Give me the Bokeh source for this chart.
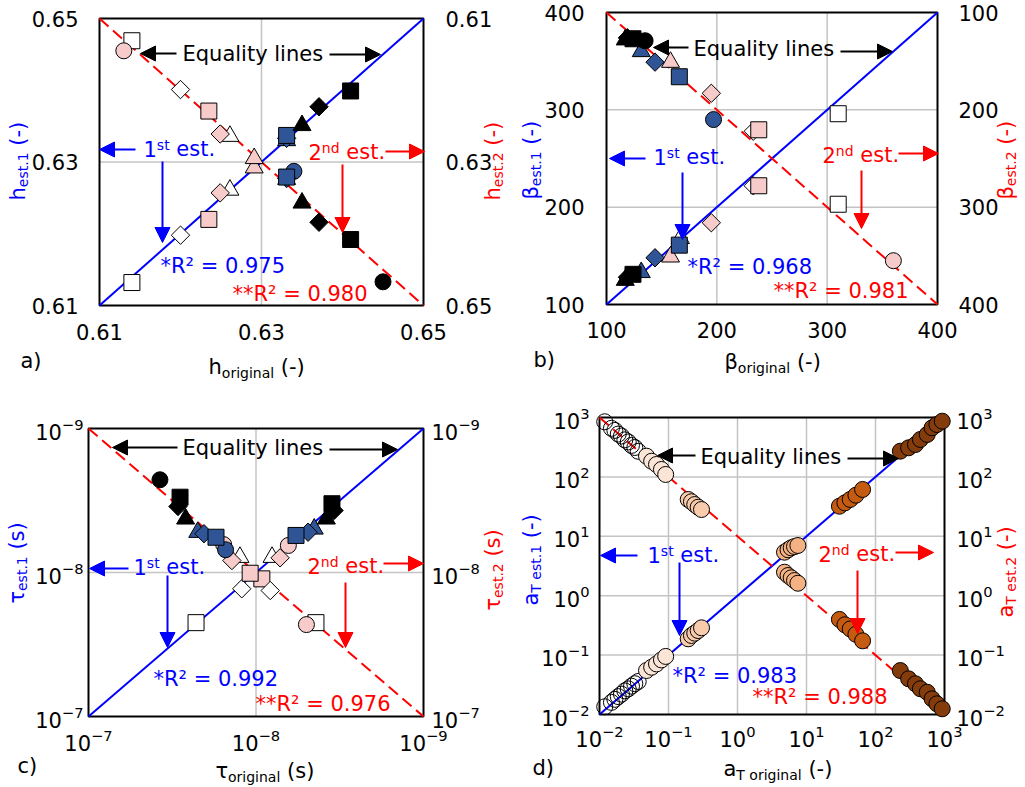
import math
import numpy as np
from bokeh.plotting import figure
from bokeh.models import (Range1d, LinearAxis, LogAxis, FixedTicker, Label, Arrow,
                          NormalHead, LogScale, ColumnDataSource)
from bokeh.layouts import column, row
from bokeh.embed import file_html
from bokeh.resources import INLINE

NaN = float("nan")

# ---------------- data ----------------
# panel a : h
a_lim = [0.61, 0.65]
a_ticks = [0.61, 0.63, 0.65]
a_grid = [0.63]
a_shape = ["square", "diamond", "triangle", "circle", "square", "diamond", "triangle", "circle",
           "triangle", "diamond", "square", "triangle", "diamond", "square", "circle"]
a_fill = ["white", "white", "white", "pink", "pink", "pink", "pink", "blue",
          "blue", "blue", "blue", "black", "black", "black", "black"]
a_orig = [0.6140, 0.6200, 0.6261, 0.6130, 0.6235, 0.6249, 0.6291, 0.6340,
          0.6331, 0.6331, 0.6331, 0.6350, 0.6371, 0.6410, 0.6450]
a_est1 = [0.6132, 0.6198, 0.6261, NaN, 0.6220, 0.6257, 0.6292, NaN,
          0.6330, 0.6333, 0.6337, 0.6351, 0.6377, 0.6399, NaN]
a_est2 = [0.6131, 0.6199, 0.6264, 0.6145, 0.6229, 0.6261, 0.6295, 0.6313,
          0.6324, 0.6323, 0.6321, 0.6357, 0.6384, 0.6408, 0.6467]

# panel b : beta
b_lim = [100, 400]
b_ticks = [100, 200, 300, 400]
b_grid = [200, 300]
b_shape = ["triangle", "diamond", "square", "circle", "triangle", "diamond", "square", "circle",
           "triangle", "diamond", "square", "circle", "diamond", "triangle", "square"]
b_fill = ["white", "white", "white", "pink", "pink", "pink", "pink", "blue",
          "blue", "blue", "blue", "black", "black", "black", "black"]
b_orig = [167, 233, 310, 360, 158, 195, 238, 197, 131.5, 144, 166, 135, 119, 117, 124]
b_est1 = [168, 222, 296, NaN, 149, 184, 222, NaN, 133, 148, 161, NaN, 128, 125, 131]
b_est2 = [NaN, 222, 297, 355, 151, 183, 220.5, 210, 140, 151, 166, 129, 126, 128, 127]

# panel c : tau (s)
c_lim = [1e-7, 1e-9]
c_ticks = [1e-9, 1e-8, 1e-7]
c_grid = [1e-8]
c_shape = ["square", "diamond", "triangle", "circle", "circle", "diamond", "square", "circle",
           "triangle", "diamond", "square", "circle", "triangle", "diamond", "square"]
c_fill = ["white", "white", "white", "pink", "pink", "pink", "pink", "blue",
          "blue", "blue", "blue", "black", "black", "black", "black"]
c_orig = [2.28e-8, 1.216e-8, 8.02e-9, 2.00e-8, 6.41e-9, 7.18e-9, 9.23e-9, 6.58e-9,
          4.49e-9, 4.89e-9, 5.77e-9, 2.67e-9, 3.80e-9, 3.42e-9, 3.52e-9]
c_est1 = [2.23e-8, 1.297e-8, 7.83e-9, NaN, 6.49e-9, 7.91e-9, 1.107e-8, NaN,
          4.98e-9, 5.25e-9, 5.53e-9, NaN, 4.24e-9, 3.71e-9, 3.33e-9]
c_est2 = [2.23e-8, 1.334e-8, 7.83e-9, 2.30e-8, 6.40e-9, 8.26e-9, 1.012e-8, 6.95e-9,
          5.25e-9, 5.38e-9, 5.69e-9, 2.27e-9, 4.24e-9, 3.48e-9, 3.00e-9]

# panel d : shift factor aT
d_lim = [1e-2, 1e3]
d_ticks = [1e-2, 1e-1, 1e0, 1e1, 1e2, 1e3]
d_grid = [1e-1, 1e0, 1e1, 1e2]
d_group = ["white"] * 10 + ["beige"] * 5 + ["peach"] * 5 + ["tan"] * 5 + ["orange"] * 5 + ["dark"] * 8
d_orig = [0.0119, 0.0149, 0.0167, 0.0187, 0.0208, 0.0233, 0.0261, 0.0291, 0.0325, 0.0364,
          0.048, 0.057, 0.067, 0.079, 0.091,
          0.193, 0.215, 0.240, 0.269, 0.301,
          4.8, 5.4, 6.0, 6.7, 7.5,
          30, 36, 43, 52, 65,
          229, 302, 380, 447, 562, 661, 776, 927]
d_est1 = [0.0135, 0.016, 0.018, 0.020, 0.022, 0.025, 0.027, 0.030, 0.033, 0.036,
          0.055, 0.0625, 0.071, 0.083, 0.095,
          0.188, 0.214, 0.234, 0.259, 0.288,
          5.40, 5.93, 6.40, 6.73, 7.00,
          32.1, 36.6, 41.7, 49.2, 61.4,
          271, 309, 351, 427, 518, 671, 762, 867]
d_est2 = [0.0118, 0.0152, 0.0165, 0.0190, 0.0205, 0.0238, 0.0258, 0.0295, 0.0320, 0.0370,
          0.0448, 0.0545, 0.0618, 0.075, 0.091,
          0.240, 0.262, 0.292, 0.324, 0.354,
          4.02, 4.57, 5.00, 5.55, 6.17,
          25.1, 30.9, 36.3, 44.7, 57.5,
          182, 251, 304, 369, 422, 545, 661, 802]

r2_text = {"a": ("0.975", "0.980"), "b": ("0.968", "0.981"),
           "c": ("0.992", "0.976"), "d": ("0.983", "0.988")}

# ---------------- styles ----------------
FONT = "DejaVu Sans"
BLUE = "#0000FF"
RED = "#FF0000"
GRID = "#C4C4C4"
FILL = {"white": "#FFFFFF", "pink": "#F8CBCB", "blue": "#2F5597", "black": "#000000"}
SIZE = {"square": 16, "circle": 16, "triangle": 18, "diamond": 13}
DFILL = {"white": "#FFFFFF", "beige": "#FBE5D6", "peach": "#F8CBAD", "tan": "#F4B183",
         "orange": "#C55A11", "dark": "#843C0C"}
CW = {' ': 0.318, '(': 0.390, ')': 0.390, '-': 0.361, '.': 0.318, '*': 0.5, '=': 0.838,
      '²': 0.401, 'a': 0.613, 'e': 0.615, 's': 0.521, 't': 0.392, 'o': 0.612, 'r': 0.411,
      'i': 0.278, 'g': 0.635, 'n': 0.634, 'l': 0.278, 'h': 0.634, 'd': 0.635, 'T': 0.611,
      'R': 0.695, 'β': 0.636, 'τ': 0.595, 'E': 0.632, 'q': 0.635, 'u': 0.634, 'y': 0.592}
BASE_SHIFT = 0.38   # rendered text sits this fraction of the font size below the anchor


def tw(s, size):
    return sum(CW.get(c, 0.636) for c in s) * size


def ext(v0, v1, p0, p1, total, log=False):
    """Range whose value v0 sits p0 px and v1 sits p1 px from the start side."""
    f = math.log10 if log else (lambda v: v)
    a, b = f(v0), f(v1)
    k = (b - a) / (p1 - p0)
    s, e = a - p0 * k, b + (total - p1) * k
    if log:
        s, e = 10 ** s, 10 ** e
    return Range1d(s, e)


class Panel:
    def __init__(self, W, H, org, box, xlim, ylim, log=False):
        self.W, self.H, self.org, self.box, self.log = W, H, org, box, log
        ox, oy = org
        L, R, T, B = box
        self.L, self.R = L - ox, R - ox
        self.yb, self.yt = (oy + H) - B, (oy + H) - T
        t = "log" if log else "linear"
        self.p = figure(width=W, height=H, title=None, output_backend="svg", toolbar_location=None,
                        x_axis_type=t, y_axis_type=t, x_axis_location=None, y_axis_location=None,
                        x_range=self.xr(*xlim), y_range=self.yr(*ylim), min_border=0)
        p = self.p
        p.min_border_left = p.min_border_right = p.min_border_top = p.min_border_bottom = 0
        p.outline_line_color = None
        p.background_fill_color = "white"
        p.border_fill_color = "white"
        for g in p.grid:
            g.visible = False

    def xr(self, v0, v1):
        return ext(v0, v1, self.L, self.R, self.W, self.log)

    def yr(self, v0, v1):
        return ext(v0, v1, self.yb, self.yt, self.H, self.log)

    def sx(self, x):
        return x - self.org[0]

    def sy(self, y):
        return self.org[1] + self.H - y


def style_axis(ax, ticks, standoff):
    ax.ticker = FixedTicker(ticks=ticks)
    ax.axis_line_color = None
    ax.major_tick_line_color = None
    ax.minor_tick_line_color = None
    ax.major_tick_out = 0
    ax.major_tick_in = 0
    ax.minor_tick_out = 0
    ax.minor_tick_in = 0
    ax.major_label_text_font = FONT
    ax.major_label_text_font_size = "21px"
    ax.major_label_text_color = "black"
    ax.major_label_standoff = standoff


def axes(P, cls, ticks, xlim, ylim, stand, right_range=None):
    p = P.p
    left = cls(fixed_location=xlim[0])
    style_axis(left, ticks, stand[0])
    p.add_layout(left, "left")
    if right_range:
        right = cls(fixed_location=xlim[1], y_range_name=right_range)
    else:
        right = cls(fixed_location=xlim[1])
    style_axis(right, ticks, stand[1])
    p.add_layout(right, "right")
    below = cls(fixed_location=ylim[0])
    style_axis(below, ticks, stand[2])
    p.add_layout(below, "below")


def frame_and_grid(P, xlim, ylim, grid):
    p = P.p
    n = len(grid)
    p.segment(x0=grid, y0=[ylim[0]] * n, x1=grid, y1=[ylim[1]] * n,
              line_color=GRID, line_width=1.5)
    p.segment(x0=[xlim[0]] * n, y0=grid, x1=[xlim[1]] * n, y1=grid,
              line_color=GRID, line_width=1.5)
    p.quad(left=[xlim[0]], right=[xlim[1]], bottom=[ylim[0]], top=[ylim[1]],
           fill_alpha=0, line_color="black", line_width=2)


def rich(P, x, y, pieces, color, vertical=False):
    """Text made of pieces (text, size px, rise px); (x, y) = page position of the baseline start."""
    pos = 0.0
    for text, size, rise in pieces:
        stripped = text.lstrip(" ")
        pos += tw(text[:len(text) - len(stripped)], size)
        corr = BASE_SHIFT * size
        if vertical:
            px, py, ang = x - rise - corr, y - pos, math.pi / 2
        else:
            px, py, ang = x + pos, y - rise - corr, 0.0
        P.p.add_layout(Label(x=P.sx(px), y=P.sy(py), x_units="screen", y_units="screen",
                             text=stripped, text_font=FONT, text_font_size=f"{size}px",
                             text_color=color, text_align="left", text_baseline="alphabetic",
                             angle=ang))
        pos += tw(stripped, size)


def arr(P, x0, y0, x1, y1, color, head=15):
    P.p.add_layout(Arrow(x_start=P.sx(x0), y_start=P.sy(y0), x_end=P.sx(x1), y_end=P.sy(y1),
                         start_units="screen", end_units="screen", line_color=color, line_width=2,
                         end=NormalHead(size=head, fill_color=color, line_color=color,
                                        line_width=1)))


def markers(p, shapes, fills, xs, ys, **kw):
    src = ColumnDataSource(dict(
        x=np.array(xs, dtype=float), y=np.array(ys, dtype=float),
        marker=["square" if s == "diamond" else s for s in shapes],
        angle=[math.pi / 4 if s == "diamond" else 0.0 for s in shapes],
        size=[SIZE[s] for s in shapes],
        fill=[FILL[f] for f in fills]))
    p.scatter("x", "y", source=src, marker="marker", angle="angle", size="size",
              fill_color="fill", line_color="black", line_width=1, **kw)


def annotate(P, key, eq, st1, nd2, r1, r2, arrows):
    rich(P, eq[0], eq[1], [("Equality lines", 21, 0)], "black")
    rich(P, st1[0], st1[1], [("1", 21, 0), ("st", 14, 6), (" est.", 21, 0)], BLUE)
    rich(P, nd2[0], nd2[1], [("2", 21, 0), ("nd", 14, 6), (" est.", 21, 0)], RED)
    rich(P, r1[0], r1[1], [("*R² = " + r2_text[key][0], 21, 0)], BLUE)
    rich(P, r2[0], r2[1], [("**R² = " + r2_text[key][1], 21, 0)], RED)
    cols = ["black", "black", BLUE, BLUE, RED, RED]
    for (x0, y0, x1, y1), c in zip(arrows, cols):
        arr(P, x0, y0, x1, y1, c)


# ---------------- panel a ----------------
A = Panel(508, 388, (0, 0), (99, 423, 18, 305), a_lim, a_lim)
pa = A.p
pa.extra_y_ranges = {"y2": A.yr(a_lim[1], a_lim[0])}
axes(A, LinearAxis, a_ticks, a_lim, a_lim, (21, 22, 18), right_range="y2")
frame_and_grid(A, a_lim, a_lim, a_grid)
pa.line(a_lim, a_lim, line_color=BLUE, line_width=2)
pa.line(a_lim, a_lim, y_range_name="y2", line_color=RED, line_width=2, line_dash="12 6")
markers(pa, a_shape, a_fill, a_orig, a_est1)
markers(pa, a_shape, a_fill, a_orig, a_est2, y_range_name="y2")
annotate(A, "a", (182, 61), (143, 156), (308, 159), (160, 273), (232, 301),
         [(176, 53, 140, 53), (329, 54, 380, 54), (135, 149, 99, 149), (162, 161, 162, 242),
          (385, 151, 424, 151), (342, 164, 342, 232)])
rich(A, 25, 200, [("h", 21, 0), ("est.1", 14, -3), (" (-)", 21, 0)], BLUE, vertical=True)
rich(A, 500, 200, [("h", 21, 0), ("est.2", 14, -3), (" (-)", 21, 0)], RED, vertical=True)
rich(A, 208, 374, [("h", 21, 0), ("original", 14, -4), (" (-)", 21, 0)], "black")
rich(A, 20, 368, [("a)", 21, 0)], "black")

# ---------------- panel b ----------------
B = Panel(516, 388, (508, 0), (606, 937, 12, 304), b_lim, b_lim)
pb = B.p
pb.extra_y_ranges = {"y2": B.yr(b_lim[1], b_lim[0])}
axes(B, LinearAxis, b_ticks, b_lim, b_lim, (22, 21, 17), right_range="y2")
frame_and_grid(B, b_lim, b_lim, b_grid)
pb.line(b_lim, b_lim, line_color=BLUE, line_width=2)
pb.line(b_lim, b_lim, y_range_name="y2", line_color=RED, line_width=2, line_dash="12 6")
markers(pb, b_shape, b_fill, b_orig, b_est1)
markers(pb, b_shape, b_fill, b_orig, b_est2, y_range_name="y2")
annotate(B, "b", (693, 56), (653, 164), (822, 162), (687, 274), (773, 298),
         [(688, 47, 653, 47), (840, 51, 892, 51), (645, 158, 609, 158), (682, 172, 682, 239),
          (898, 153, 938, 153), (861, 170, 861, 228)])
rich(B, 538, 199, [("β", 21, 0), ("est.1", 14, -3), (" (-)", 21, 0)], BLUE, vertical=True)
rich(B, 1013, 199, [("β", 21, 0), ("est.2", 14, -3), (" (-)", 21, 0)], RED, vertical=True)
rich(B, 724, 369, [("β", 21, 0), ("original", 14, -4), (" (-)", 21, 0)], "black")
rich(B, 533, 367, [("b)", 21, 0)], "black")

# ---------------- panel c ----------------
C = Panel(508, 398, (0, 388), (88, 423, 428, 716), c_lim, c_lim, log=True)
pc = C.p
pc.extra_x_ranges = {"x2": C.xr(c_lim[1], c_lim[0])}
pc.extra_x_scales = {"x2": LogScale()}
axes(C, LogAxis, c_ticks, c_lim, c_lim, (5, 8, 12))
frame_and_grid(C, c_lim, c_lim, c_grid)
pc.line(c_lim, c_lim, line_color=BLUE, line_width=2)
pc.line(c_lim[::-1], c_lim[::-1], x_range_name="x2", line_color=RED, line_width=2, line_dash="12 6")
markers(pc, c_shape, c_fill, c_orig, c_est1)
markers(pc, c_shape, c_fill, c_orig, c_est2, x_range_name="x2")
annotate(C, "c", (182, 455), (133, 574), (307, 573), (153, 686), (255, 711),
         [(177, 447, 112, 447), (329, 449, 397, 449), (128, 568, 89, 568), (167, 575, 167, 647),
          (383, 563, 423, 563), (345, 582, 345, 647)])
rich(C, 24, 603, [("τ", 21, 0), ("est.1", 14, -3), (" (s)", 21, 0)], BLUE, vertical=True)
rich(C, 500, 610, [("τ", 21, 0), ("est.2", 14, -3), (" (s)", 21, 0)], RED, vertical=True)
rich(C, 215, 778, [("τ", 21, 0), ("original", 14, -4), (" (s)", 21, 0)], "black")
rich(C, 17, 773, [("c)", 21, 0)], "black")

# ---------------- panel d ----------------
D = Panel(516, 398, (508, 388), (599, 944, 417, 714), d_lim, d_lim, log=True)
pdd = D.p
pdd.extra_y_ranges = {"y2": D.yr(d_lim[1], d_lim[0])}
pdd.extra_y_scales = {"y2": LogScale()}
axes(D, LogAxis, d_ticks, d_lim, d_lim, (10, 12, 10))
frame_and_grid(D, d_lim, d_lim, d_grid)
pdd.line(d_lim, d_lim, line_color=BLUE, line_width=2)
pdd.line(d_lim, d_lim, y_range_name="y2", line_color=RED, line_width=2, line_dash="12 6")
dalpha = [0.0 if g == "white" else 1.0 for g in d_group]
dfill = [DFILL[g] for g in d_group]
dsrc1 = ColumnDataSource(dict(x=np.array(d_orig, float), y=np.array(d_est1, float),
                              fill=dfill, alpha=dalpha))
dsrc2 = ColumnDataSource(dict(x=np.array(d_orig, float), y=np.array(d_est2, float),
                              fill=dfill, alpha=dalpha))
pdd.scatter("x", "y", source=dsrc1, marker="circle", size=16, fill_color="fill",
            fill_alpha="alpha", line_color="black", line_width=1)
pdd.scatter("x", "y", source=dsrc2, marker="circle", size=16, fill_color="fill",
            fill_alpha="alpha", line_color="black", line_width=1, y_range_name="y2")
annotate(D, "d", (700, 464), (647, 562), (818, 561), (672, 683), (752, 704),
         [(695, 455, 657, 455), (847, 458, 898, 458), (637, 555, 600, 555), (679, 562, 679, 635),
          (895, 552, 933, 552), (857, 570, 857, 633)])
rich(D, 538, 605, [("a", 21, 0), ("T est.1", 14, -3), (" (-)", 21, 0)], BLUE, vertical=True)
rich(D, 1013, 617, [("a", 21, 0), ("T est.2", 14, -3), (" (-)", 21, 0)], RED, vertical=True)
rich(D, 723, 776, [("a", 21, 0), ("T original", 14, -4), (" (-)", 21, 0)], "black")
rich(D, 532, 775, [("d)", 21, 0)], "black")

layout = column(row(pa, pb), row(pc, pdd))
open("out.html", "w").write(file_html(layout, INLINE))
